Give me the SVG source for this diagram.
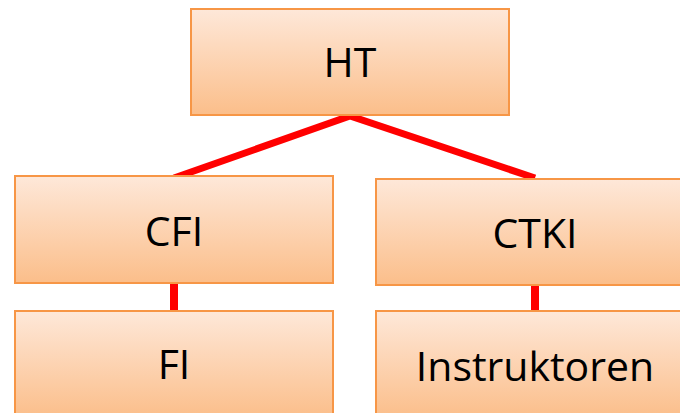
<svg xmlns="http://www.w3.org/2000/svg" width="680" height="413" viewBox="0 0 680 413">
<defs>
<linearGradient id="g" x1="0" y1="0" x2="0" y2="1">
<stop offset="0" stop-color="#fee8d9"/>
<stop offset="1" stop-color="#fbbe8a"/>
</linearGradient>
<style>
.box{fill:url(#g);stroke:#f79646;stroke-width:2}
.t{font-family:"Open Sans","Liberation Sans",sans-serif;font-size:41px;fill:#000;text-anchor:middle}
.c{stroke:#ff0000;fill:none}
</style>
</defs>
<rect width="680" height="413" fill="#fff"/>
<g id="connectors">
<polyline class="c" points="174,178 350,116 535,178" stroke-width="7" stroke-linejoin="miter"/>
<line class="c" x1="174" y1="283" x2="174" y2="311" stroke-width="8"/>
<line class="c" x1="535" y1="285" x2="535" y2="311" stroke-width="8"/>
</g>
<g id="HT">
<rect class="box" x="191" y="9" width="318" height="106"/>
<text class="t" x="350" y="77">HT</text>
</g>
<g id="CFI">
<rect class="box" x="15" y="176" width="318" height="107"/>
<text class="t" x="174" y="246">CFI</text>
</g>
<g id="CTKI">
<rect class="box" x="376" y="179" width="318" height="106"/>
<text class="t" x="535" y="248">CTKI</text>
</g>
<g id="FI">
<rect class="box" x="15" y="311" width="318" height="107"/>
<text class="t" x="174" y="379">FI</text>
</g>
<g id="Instruktoren">
<rect class="box" x="376" y="311" width="318" height="107"/>
<text class="t" x="535" y="381">Instruktoren</text>
</g>
</svg>
